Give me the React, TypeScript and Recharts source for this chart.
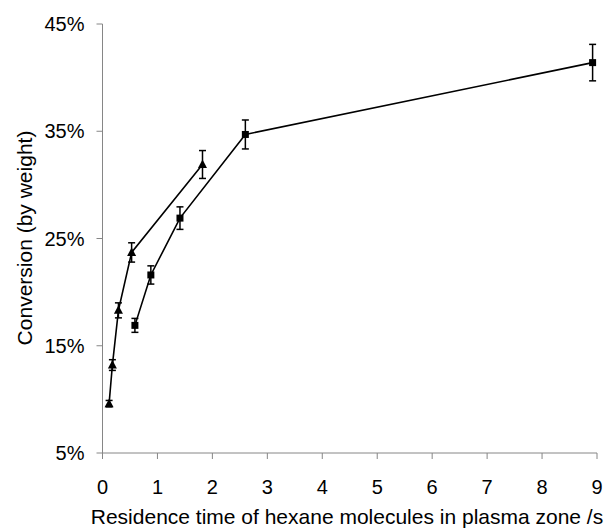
import { ErrorBar, Label, Line, LineChart, XAxis, YAxis } from "recharts";

// triangles: residence time (s), conversion (%), error (+/- %)
const timeA = [0.12, 0.18, 0.29, 0.53, 1.82];
const convA = [9.6, 13.2, 18.3, 23.7, 31.9];
const errA = [0.3, 0.5, 0.7, 0.9, 1.3];

// squares
const timeB = [0.59, 0.88, 1.41, 2.6, 8.92];
const convB = [16.9, 21.6, 26.9, 34.7, 41.4];
const errB = [0.65, 0.85, 1.05, 1.35, 1.7];

const xTicks = [0, 1, 2, 3, 4, 5, 6, 7, 8, 9];
const yTicks = [5, 15, 25, 35, 45];

const FONT = '"Liberation Sans", Arial, sans-serif';
const AXIS = "#868686";

const seriesA = timeA.map((t, i) => ({ t, conv: convA[i], err: errA[i] }));
const seriesB = timeB.map((t, i) => ({ t, conv: convB[i], err: errB[i] }));

const TriangleDot = (props: any) => {
  const { cx, cy } = props;
  if (cx == null || cy == null) return null;
  return (
    <path
      d={`M${cx},${cy - 5} L${cx + 4.5},${cy + 3.5} L${cx - 4.5},${cy + 3.5} Z`}
      fill="#000"
    />
  );
};

const SquareDot = (props: any) => {
  const { cx, cy } = props;
  if (cx == null || cy == null) return null;
  return <rect x={cx - 3.5} y={cy - 3.5} width={7} height={7} fill="#000" />;
};

export default function App() {
  return (
    <div style={{ position: "absolute", left: 0, top: 0, background: "#fff" }}>
      <LineChart
        width={611}
        height={528}
        margin={{ top: 24, right: 14, left: 0, bottom: 0 }}
      >
        <XAxis
          type="number"
          dataKey="t"
          domain={[0, 9]}
          ticks={xTicks}
          allowDuplicatedCategory={false}
          height={75}
          stroke={AXIS}
          tickSize={6}
          tickMargin={21}
          tick={{ fill: "#000", fontSize: 20, fontFamily: FONT }}
        >
          <Label
            content={() => (
              <text
                x={347}
                y={524}
                textAnchor="middle"
                fontSize={21}
                fontFamily={FONT}
                fill="#000"
              >
                Residence time of hexane molecules in plasma zone /s
              </text>
            )}
          />
        </XAxis>
        <YAxis
          type="number"
          domain={[5, 45]}
          ticks={yTicks}
          width={102.5}
          stroke={AXIS}
          tickSize={6}
          tickMargin={12}
          tickFormatter={(v) => `${v}%`}
          tick={{ fill: "#000", fontSize: 20, fontFamily: FONT }}
        >
          <Label
            content={() => (
              <text
                x={24}
                y={238}
                transform="rotate(-90 24 238)"
                textAnchor="middle"
                dominantBaseline="central"
                fontSize={21}
                fontFamily={FONT}
                fill="#000"
              >
                Conversion (by weight)
              </text>
            )}
          />
        </YAxis>
        <Line
          data={seriesA}
          dataKey="conv"
          name="Triangles"
          stroke="#000"
          strokeWidth={1.6}
          dot={<TriangleDot />}
          activeDot={false}
          isAnimationActive={false}
        >
          <ErrorBar
            dataKey="err"
            direction="y"
            width={3.5}
            stroke="#000"
            strokeWidth={1.5}
            isAnimationActive={false}
          />
        </Line>
        <Line
          data={seriesB}
          dataKey="conv"
          name="Squares"
          stroke="#000"
          strokeWidth={1.6}
          dot={<SquareDot />}
          activeDot={false}
          isAnimationActive={false}
        >
          <ErrorBar
            dataKey="err"
            direction="y"
            width={3.5}
            stroke="#000"
            strokeWidth={1.5}
            isAnimationActive={false}
          />
        </Line>
      </LineChart>
    </div>
  );
}
